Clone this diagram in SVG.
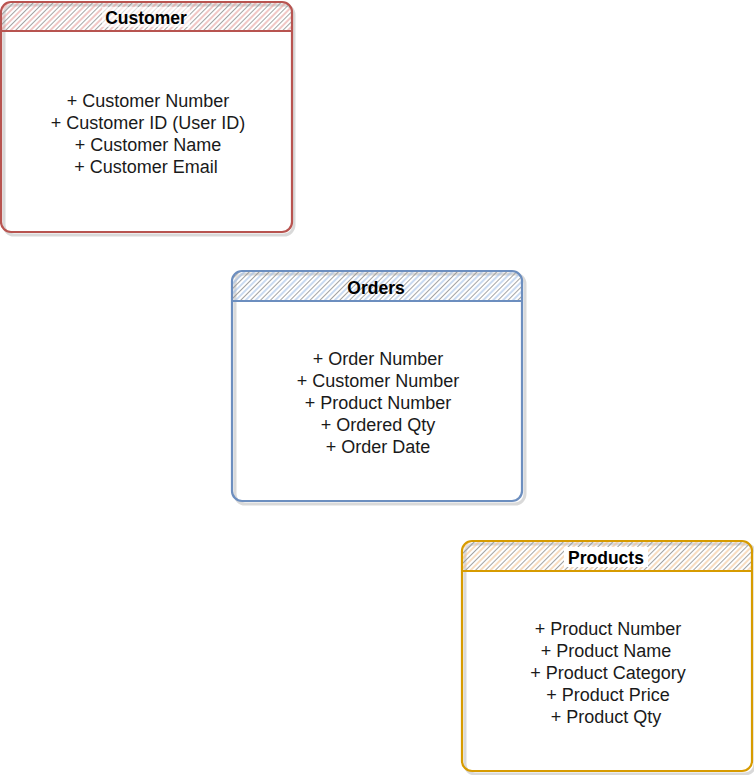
<svg xmlns="http://www.w3.org/2000/svg" width="754" height="775" viewBox="0 0 754 775">
<defs>
<style>
.t{font-family:"Liberation Sans",Arial,sans-serif;font-size:18px;fill:#1a1a1a;text-anchor:middle}
.h{font-family:"Liberation Sans",Arial,sans-serif;font-size:17.5px;font-weight:bold;fill:#000;text-anchor:middle}
.sh{fill:none;stroke:#000;stroke-opacity:0.15;stroke-width:3}
</style>
<pattern id="hr" width="7" height="7" patternUnits="userSpaceOnUse" patternTransform="rotate(45)">
<line x1="1" y1="0" x2="1" y2="7" stroke="#e59a96" stroke-width="1.1"/><line x1="4.5" y1="0" x2="4.5" y2="7" stroke="#999" stroke-width="0.9"/>
</pattern>
<pattern id="hb" width="7" height="7" patternUnits="userSpaceOnUse" patternTransform="rotate(45)">
<line x1="1" y1="0" x2="1" y2="7" stroke="#9fbde6" stroke-width="1.1"/><line x1="4.5" y1="0" x2="4.5" y2="7" stroke="#999" stroke-width="0.9"/>
</pattern>
<pattern id="ho" width="7" height="7" patternUnits="userSpaceOnUse" patternTransform="rotate(45)">
<line x1="1" y1="0" x2="1" y2="7" stroke="#f2c18d" stroke-width="1.1"/><line x1="4.5" y1="0" x2="4.5" y2="7" stroke="#999" stroke-width="0.9"/>
</pattern>
</defs>
<rect width="754" height="775" fill="#fff"/>
<g id="connectors"></g>
<g id="customer">
<rect class="sh" x="4" y="5" width="290" height="230" rx="10"/>
<path d="M11,2 H282 Q292,2 292,12 V31 H1 V12 Q1,2 11,2 Z" fill="url(#hr)"/>
<rect x="102" y="7" width="88" height="20" fill="#fff" fill-opacity="0.6"/>
<rect x="1" y="2" width="291" height="230" rx="10" fill="none" stroke="#b85450" stroke-width="2.2"/>
<line x1="1" y1="31" x2="292" y2="31" stroke="#b85450" stroke-width="2.2"/>
<text class="h" x="146" y="23.5">Customer</text>
<text class="t" x="148" y="107">+ Customer Number</text>
<text class="t" x="148" y="129">+ Customer ID (User ID)</text>
<text class="t" x="148" y="151">+ Customer Name</text>
<text class="t" x="146" y="173">+ Customer Email</text>
</g>
<g id="orders">
<rect class="sh" x="235" y="274" width="290" height="230" rx="10"/>
<path d="M242,271 H512 Q522,271 522,281 V301 H232 V281 Q232,271 242,271 Z" fill="url(#hb)"/>
<rect x="232" y="271" width="290" height="230" rx="10" fill="none" stroke="#6c8ebf" stroke-width="2.2"/>
<line x1="232" y1="301" x2="522" y2="301" stroke="#6c8ebf" stroke-width="2.2"/>
<text class="h" x="376" y="293.5">Orders</text>
<text class="t" x="378" y="365">+ Order Number</text>
<text class="t" x="378" y="387">+ Customer Number</text>
<text class="t" x="378" y="409">+ Product Number</text>
<text class="t" x="378" y="431">+ Ordered Qty</text>
<text class="t" x="378" y="453">+ Order Date</text>
</g>
<g id="products">
<rect class="sh" x="465" y="544" width="290" height="230" rx="10"/>
<path d="M472,541 H742 Q752,541 752,551 V571 H462 V551 Q462,541 472,541 Z" fill="url(#ho)"/>
<rect x="564" y="547" width="84" height="20" fill="#fff"/>
<rect x="462" y="541" width="290" height="230" rx="10" fill="none" stroke="#d79b00" stroke-width="2.2"/>
<line x1="462" y1="571" x2="752" y2="571" stroke="#d79b00" stroke-width="2.2"/>
<text class="h" x="606" y="563.5">Products</text>
<text class="t" x="608" y="635">+ Product Number</text>
<text class="t" x="606" y="657">+ Product Name</text>
<text class="t" x="608" y="679">+ Product Category</text>
<text class="t" x="608" y="701">+ Product Price</text>
<text class="t" x="606" y="723">+ Product Qty</text>
</g>
</svg>
